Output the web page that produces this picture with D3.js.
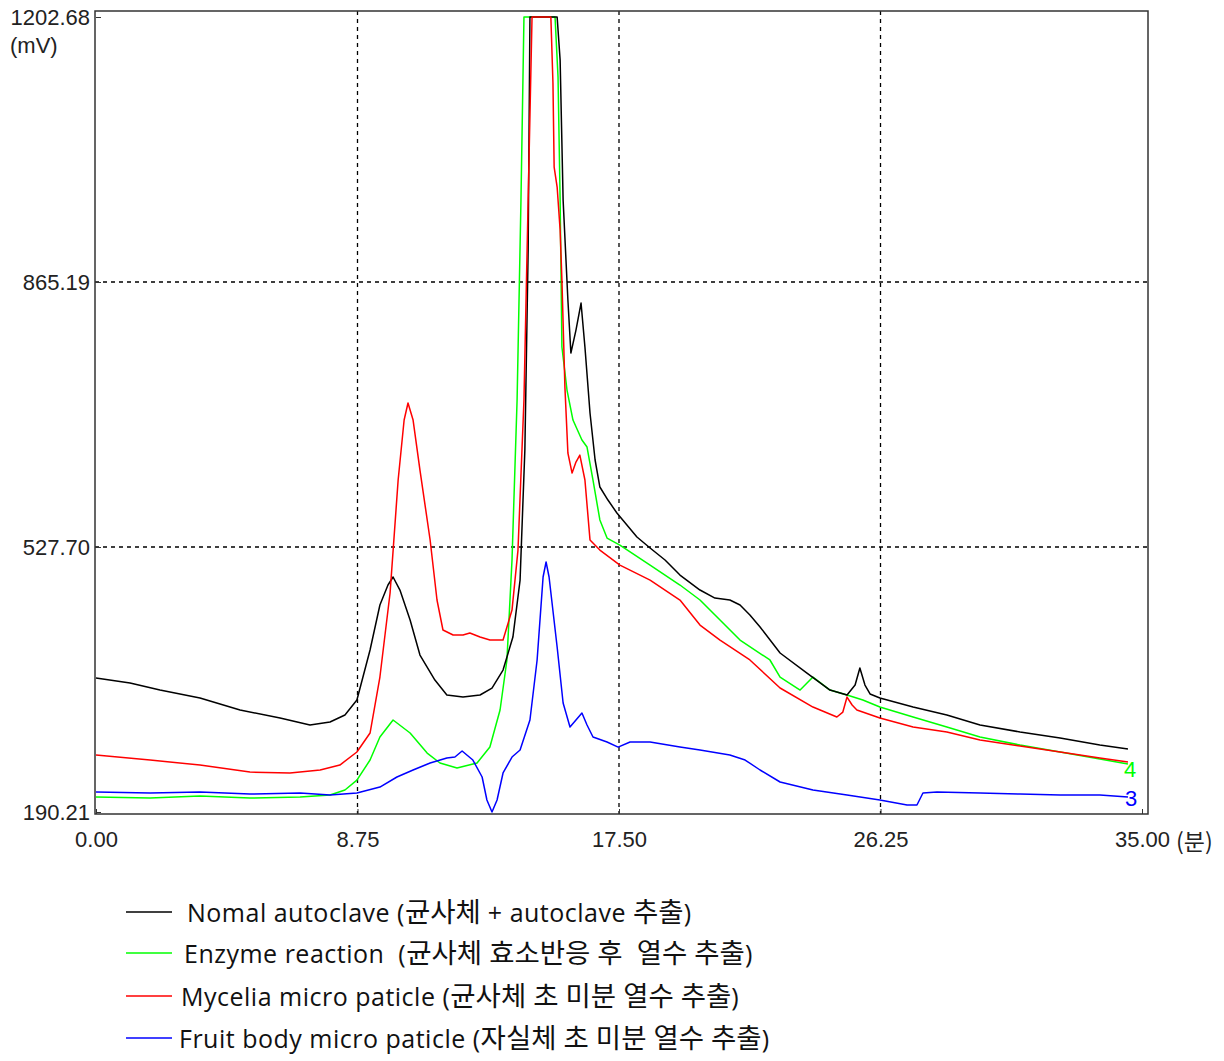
<!DOCTYPE html>
<html>
<head>
  <title>Chromatogram</title>
  <script src="https://d3js.org/d3.v7.min.js"></script>
  <style>
    body { margin: 0; background: #fff; }
    .axis text { font-family: "Liberation Sans", sans-serif; font-size: 22px; fill: #222; }
    .legend text { font-family: "Open Sans", "Noto Sans CJK KR", sans-serif; font-size: 25px; letter-spacing: 0.5px; fill: #111; white-space: pre; }
    .legend .ko { font-family: "Noto Sans CJK KR", sans-serif; font-size: 27.5px; letter-spacing: 0; }
  </style>
</head>
<body>
<div id="chart"></div>
<script>
  // retention time (min) and signal (mV)
  let blackT = [0, 1.14, 2.14, 3.48, 4.82, 6.16, 7.16, 7.83, 8.33, 8.73, 9.17, 9.5, 9.77, 9.94, 10.17, 10.51, 10.84, 11.34, 11.74, 12.28, 12.85, 13.25, 13.62, 13.95, 14.19, 14.35, 14.46, 14.52, 15.43, 15.53, 15.63, 15.79, 15.89, 16.06, 16.23, 16.36, 16.53, 16.7, 16.86, 17.13, 17.43, 18.1, 18.54, 19.04, 19.54, 20.21, 20.71, 21.21, 21.55, 21.88, 22.22, 22.89, 23.79, 24.56, 25.13, 25.4, 25.56, 25.73, 25.9, 26.23, 27.34, 28.47, 29.58, 30.92, 32.26, 33.59, 34.53];
  let blackV = [360.9, 354.5, 345.5, 335.4, 320.1, 309.9, 301.0, 304.8, 313.7, 332.8, 396.5, 453.8, 479.3, 489.5, 472.9, 434.7, 390.1, 358.3, 339.2, 336.6, 339.2, 348.1, 371.0, 413.0, 485.6, 651.2, 905.9, 1202.68, 1202.68, 1147.9, 969.6, 842.2, 774.7, 804.0, 838.4, 782.4, 698.3, 638.5, 604.1, 587.5, 571.0, 540.4, 526.4, 511.1, 492.0, 472.9, 462.7, 460.2, 453.8, 441.1, 425.8, 392.7, 367.2, 345.5, 339.2, 351.9, 373.6, 351.9, 340.5, 335.4, 323.9, 313.7, 301.0, 292.1, 284.4, 275.5, 270.4];

  let greenT = [0, 1.81, 3.48, 5.15, 6.83, 7.83, 8.33, 8.73, 9.17, 9.5, 9.94, 10.51, 11.08, 11.51, 12.08, 12.75, 13.18, 13.52, 13.75, 13.92, 14.09, 14.22, 14.32, 15.36, 15.46, 15.53, 15.59, 15.76, 15.96, 16.26, 16.43, 16.63, 16.86, 17.1, 17.53, 18.54, 19.54, 20.21, 20.88, 21.55, 22.55, 22.89, 23.56, 23.99, 24.56, 25.13, 25.66, 26.23, 27.34, 28.47, 29.58, 30.92, 32.26, 33.59, 34.53];
  let greenV = [209.2, 208.0, 210.5, 208.0, 209.2, 211.8, 218.2, 230.9, 256.4, 285.7, 307.4, 290.8, 265.3, 252.6, 246.2, 252.6, 272.9, 320.1, 383.8, 511.1, 714.9, 969.6, 1202.68, 1202.68, 1126.2, 969.6, 782.4, 727.6, 689.4, 663.9, 655.0, 613.0, 562.1, 539.1, 530.2, 504.7, 479.3, 460.2, 434.7, 409.2, 383.8, 362.1, 345.5, 362.1, 345.5, 339.2, 332.8, 323.9, 311.2, 298.4, 285.7, 275.5, 266.6, 257.7, 251.3];

  let redT = [0, 1.81, 3.48, 5.15, 6.49, 7.5, 8.16, 8.73, 9.17, 9.5, 9.84, 10.11, 10.31, 10.44, 10.61, 10.84, 11.18, 11.41, 11.61, 11.95, 12.28, 12.51, 12.85, 13.18, 13.62, 13.92, 14.12, 14.32, 14.46, 14.59, 15.22, 15.29, 15.33, 15.43, 15.53, 15.59, 15.69, 15.79, 15.93, 16.06, 16.19, 16.36, 16.53, 16.86, 17.53, 18.54, 19.54, 20.21, 20.88, 21.88, 22.89, 23.99, 24.79, 24.99, 25.13, 25.3, 25.46, 26.23, 27.34, 28.47, 29.58, 30.92, 32.26, 33.59, 34.53];
  let redV = [262.8, 256.4, 250.0, 241.1, 239.9, 243.7, 250.0, 266.6, 290.8, 362.1, 469.1, 613.0, 689.4, 711.1, 689.4, 625.7, 536.6, 460.2, 422.0, 415.6, 415.6, 418.1, 413.0, 409.2, 409.2, 447.4, 523.8, 714.9, 969.6, 1202.68, 1202.68, 1118.6, 1011.6, 986.1, 931.4, 867.7, 731.4, 647.4, 621.9, 635.9, 644.8, 613.0, 536.6, 523.8, 504.7, 485.6, 460.2, 428.3, 409.2, 383.8, 348.1, 323.9, 311.2, 317.5, 336.6, 326.5, 320.1, 309.9, 298.4, 292.1, 281.9, 274.2, 266.6, 258.9, 253.9];

  let blueT = [0, 1.81, 3.48, 5.15, 6.83, 7.83, 8.73, 9.5, 10.07, 10.61, 11.18, 11.74, 12.01, 12.25, 12.61, 12.92, 13.08, 13.25, 13.42, 13.62, 13.92, 14.19, 14.52, 14.76, 14.96, 15.06, 15.16, 15.43, 15.63, 15.86, 16.06, 16.26, 16.43, 16.63, 17.1, 17.47, 17.87, 18.54, 19.54, 20.21, 21.21, 21.72, 22.22, 22.89, 23.99, 25.13, 26.23, 27.14, 27.47, 27.67, 28.14, 29.58, 30.92, 32.26, 33.59, 34.53];
  let blueV = [215.6, 214.4, 215.6, 213.1, 214.4, 211.8, 214.4, 222.0, 234.8, 243.7, 252.6, 258.9, 260.2, 267.9, 256.4, 234.8, 205.5, 190.2, 205.5, 239.9, 260.2, 269.1, 307.4, 383.8, 489.5, 508.6, 489.5, 400.3, 329.0, 298.4, 307.4, 316.3, 301.0, 285.7, 279.3, 272.9, 279.3, 279.3, 272.9, 269.1, 262.8, 256.4, 243.7, 228.4, 218.2, 211.8, 205.5, 199.1, 199.1, 214.4, 215.6, 214.4, 213.1, 211.8, 211.8, 209.3];

  let yTicks = [190.21, 527.70, 865.19, 1202.68];
  let xTicks = [0, 8.75, 17.5, 26.25, 35];

  let legendLabels = [
    'Nomal autoclave (균사체 + autoclave 추출)',
    'Enzyme reaction  (균사체 효소반응 후  열수 추출)',
    'Mycelia micro paticle (균사체 초 미분 열수 추출)',
    'Fruit body micro paticle (자실체 초 미분 열수 추출)'
  ];
  let seriesColors = ['#000000', '#00ff00', '#ff0000', '#0000ff'];

  let width = 1224, height = 1061;
  let svg = d3.select('#chart').append('svg')
    .attr('width', width).attr('height', height);

  let x = d3.scaleLinear().domain([0, 35]).range([96, 1142]);
  let y = d3.scaleLinear().domain([190.21, 1202.68]).range([812, 17]);

  // dashed grid
  let grid = svg.append('g');
  grid.selectAll('.vg').data(xTicks.slice(1, 4)).enter().append('line')
    .attr('x1', d => x(d)).attr('x2', d => x(d))
    .attr('y1', 11).attr('y2', 814)
    .attr('stroke', '#000').attr('stroke-width', 1.3)
    .attr('stroke-dasharray', '4,4');
  grid.selectAll('.hg').data(yTicks.slice(1, 3)).enter().append('line')
    .attr('x1', 95).attr('x2', 1148)
    .attr('y1', d => y(d)).attr('y2', d => y(d))
    .attr('stroke', '#000').attr('stroke-width', 1.3)
    .attr('stroke-dasharray', '4,4');

  // series
  let line = d3.line().x(d => x(d[0])).y(d => y(d[1]));
  let series = [[blackT, blackV], [greenT, greenV], [redT, redV], [blueT, blueV]];
  let drawOrder = [1, 0, 2, 3];
  drawOrder.forEach(i => {
    let pts = series[i][0].map((t, k) => [t, series[i][1][k]]);
    svg.append('path')
      .datum(pts)
      .attr('d', line)
      .attr('fill', 'none')
      .attr('stroke', seriesColors[i])
      .attr('stroke-width', 1.5)
      .attr('stroke-linejoin', 'round');
  });

  // frame
  svg.append('rect')
    .attr('x', 95).attr('y', 11).attr('width', 1053).attr('height', 803)
    .attr('fill', 'none').attr('stroke', '#333').attr('stroke-width', 1.5);

  // axes
  let yAxis = svg.append('g').attr('class', 'axis')
    .attr('transform', 'translate(96,0)')
    .call(d3.axisLeft(y).tickValues(yTicks).tickFormat(d3.format('.2f'))
      .tickSizeInner(-5).tickSizeOuter(0).tickPadding(6));
  yAxis.select('.domain').remove();
  yAxis.selectAll('line').attr('stroke', '#333');

  let xAxis = svg.append('g').attr('class', 'axis')
    .attr('transform', 'translate(0,814)')
    .call(d3.axisBottom(x).tickValues(xTicks).tickFormat(d3.format('.2f'))
      .tickSizeInner(-5).tickSizeOuter(0).tickPadding(17));
  xAxis.select('.domain').remove();
  xAxis.selectAll('line').attr('stroke', '#333');

  svg.append('text')
    .attr('x', 10).attr('y', 53)
    .style('font-family', '"Liberation Sans", sans-serif')
    .style('font-size', '22px').style('fill', '#222')
    .text('(mV)');
  svg.append('text')
    .attr('x', 1176).attr('y', 850)
    .style('font-family', '"Noto Sans CJK KR", sans-serif')
    .style('font-size', '23px').style('fill', '#222')
    .text('(분)');

  // trace numbers at the right end
  svg.append('text').attr('x', 1124).attr('y', 777)
    .style('font-family', '"Liberation Sans", sans-serif')
    .style('font-size', '22px').style('fill', '#00ff00').text('4');
  svg.append('text').attr('x', 1125).attr('y', 806)
    .style('font-family', '"Liberation Sans", sans-serif')
    .style('font-size', '22px').style('fill', '#0000ff').text('3');

  // legend
  let legendY = [913, 954, 997, 1039];
  let legendX = [187, 184, 181, 179];
  let legend = svg.append('g').attr('class', 'legend');
  legendLabels.forEach((lab, i) => {
    legend.append('line')
      .attr('x1', 126).attr('x2', 172)
      .attr('y1', legendY[i] - 1).attr('y2', legendY[i] - 1)
      .attr('stroke', seriesColors[i]).attr('stroke-width', 1.5);
    let t = legend.append('text')
      .attr('x', legendX[i]).attr('y', legendY[i])
      .attr('dy', '0.35em');
    lab.split(/([\uAC00-\uD7A3]+)/).filter(s => s.length).forEach(part => {
      t.append('tspan')
        .attr('class', /[\uAC00-\uD7A3]/.test(part) ? 'ko' : null)
        .text(part);
    });
  });
</script>
</body>
</html>
